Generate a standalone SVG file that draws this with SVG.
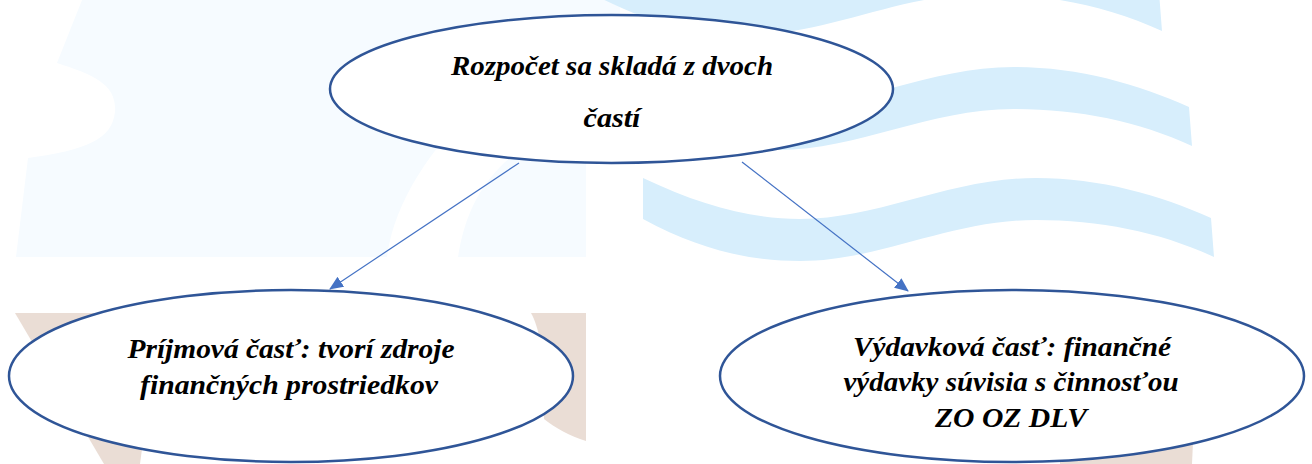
<svg xmlns="http://www.w3.org/2000/svg" width="1312" height="464" viewBox="0 0 1312 464">
  <defs>
    <style>
      .node { fill: #ffffff; stroke: #2f5597; stroke-width: 2.5; }
      .link { stroke: #4472c4; stroke-width: 1.2; fill: none; marker-end: url(#arrow); }
      .faint { fill: #f6fbff; }
      .wave { fill: #d7eefc; }
      .sand { fill: #eaddd5; }
      text { font-family: "Liberation Serif", "DejaVu Serif", serif; font-size: 28px; font-weight: bold; font-style: italic; fill: #000000; text-anchor: middle; }
    </style>
    <marker id="arrow" viewBox="0 0 14 12" refX="13" refY="6" markerWidth="14" markerHeight="12" markerUnits="userSpaceOnUse" orient="auto">
      <path d="M0,0 L14,6 L0,12 Z" fill="#4472c4"/>
    </marker>
    <path id="waveBand" d="M643,178 C700,205 750,219 800,219 C880,219 950,178 1036,178 C1100,178 1160,195 1211,218 L1214,257 C1160,232 1100,220 1036,220 C950,220 880,261 800,261 C750,261 700,250 643,219 Z"/>
  </defs>

  <!-- background watermark -->
  <g id="watermark">
    <path class="faint" d="M82,0 H620 V15 L480,100 C430,150 395,200 387,257 H16 L28,158 C85,150 112,140 115,112 C117,85 95,75 57,63 Z"/>
    <path class="faint" d="M458,257 C465,210 485,175 520,150 L586,150 L586,257 Z"/>
    <use href="#waveBand" class="wave"/>
    <use href="#waveBand" class="wave" transform="translate(-22,-111)"/>
    <use href="#waveBand" class="wave" transform="translate(-52,-226)"/>
    <path class="sand" d="M15,313 H160 L140,464 H104 Z"/>
    <path class="sand" d="M531,313 H586 V441 C570,436 555,428 544,419 L540,340 C538,330 535,320 531,313 Z"/>
    <path class="sand" d="M1060,420 H1194 L1192,464 H1060 Z"/>
  </g>

  <!-- connectors -->
  <g id="connectors">
    <line class="link" x1="519" y1="163" x2="330" y2="289"/>
    <line class="link" x1="742" y1="162" x2="908" y2="291"/>
  </g>

  <g id="node-rozpocet">
    <ellipse class="node" cx="611.5" cy="89" rx="281.5" ry="74"/>
    <text x="612" y="75" textLength="322" lengthAdjust="spacingAndGlyphs">Rozpočet sa skladá z dvoch</text>
    <text x="612" y="127" textLength="57" lengthAdjust="spacingAndGlyphs">častí</text>
  </g>

  <g id="node-prijmova">
    <ellipse class="node" cx="291" cy="376" rx="282" ry="86"/>
    <text x="291" y="358" textLength="327" lengthAdjust="spacingAndGlyphs">Príjmová časť: tvorí zdroje</text>
    <text x="289" y="394" textLength="298" lengthAdjust="spacingAndGlyphs">finančných prostriedkov</text>
  </g>

  <g id="node-vydavkova">
    <ellipse class="node" cx="1012" cy="376" rx="292" ry="86"/>
    <text x="1012" y="356" textLength="318" lengthAdjust="spacingAndGlyphs">Výdavková časť: finančné</text>
    <text x="1011" y="391" textLength="335" lengthAdjust="spacingAndGlyphs">výdavky súvisia s činnosťou</text>
    <text x="1011" y="427" textLength="152" lengthAdjust="spacingAndGlyphs">ZO OZ DLV</text>
  </g>
</svg>
